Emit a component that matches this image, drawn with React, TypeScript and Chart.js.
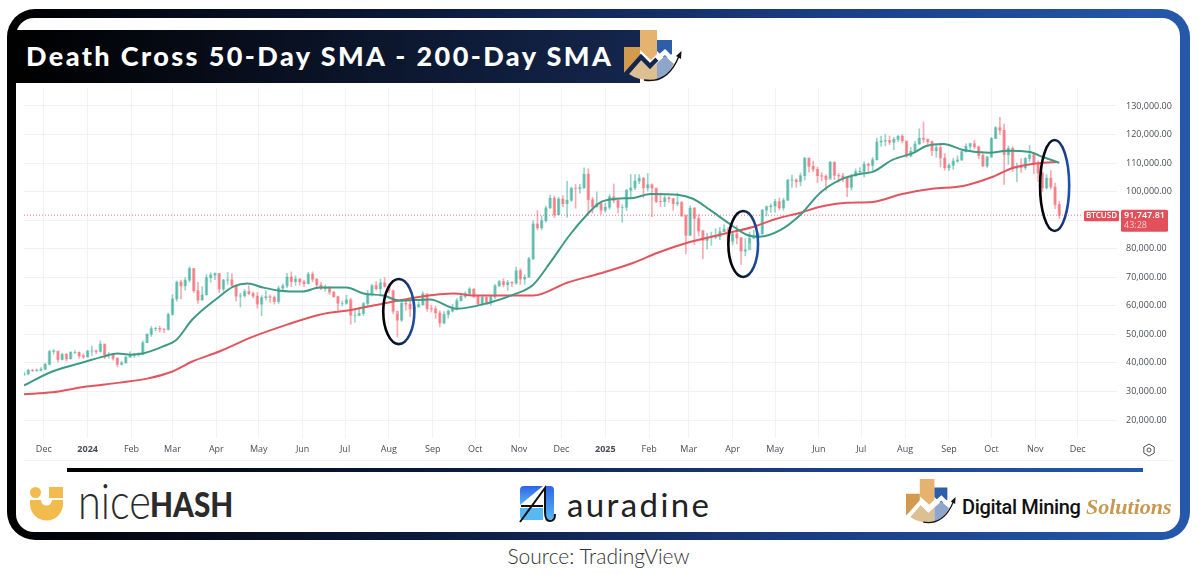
import { useEffect, useRef } from "react";
import { Chart, registerables } from "chart.js";

Chart.register(...registerables);

// BTCUSD in thousands of USD, one candle every three days from 17 Nov 2023.
// Days are counted from 1 Dec 2023.
const firstDay = -14;
const dayStep = 3;
const firstOpen = 35.8;

const closes = [
  36.2, 37.4, 37.3, 37.4, 37.8, 39.5, 44.0, 44.2, 41.2, 43.0,
  41.4, 43.7, 43.7, 42.5, 42.1, 44.2, 44.2, 44.0, 46.6, 42.8,
  43.1, 41.6, 39.5, 40.0, 42.0, 42.6, 43.0, 43.1, 47.1, 50.0,
  52.0, 52.1, 51.8, 51.7, 57.0, 62.4, 68.3, 67.0, 69.0, 73.1,
  65.3, 62.0, 63.8, 69.9, 70.8, 71.3, 65.9, 69.0, 69.1, 67.2,
  63.4, 63.5, 65.0, 64.3, 63.4, 60.6, 62.9, 63.2, 63.0, 61.5,
  66.2, 67.0, 70.1, 68.5, 69.4, 68.4, 67.8, 71.1, 69.3, 67.3,
  66.0, 66.5, 64.8, 63.2, 60.9, 60.9, 62.1, 56.7, 56.7, 57.3,
  60.8, 64.1, 67.1, 66.0, 68.0, 66.8, 65.3, 58.1, 55.0, 60.9,
  60.6, 58.9, 59.5, 60.4, 64.2, 59.0, 58.9, 57.5, 54.0, 57.0,
  58.1, 59.2, 61.8, 63.3, 64.3, 65.9, 63.3, 60.7, 63.0, 61.0,
  63.2, 67.0, 68.5, 67.4, 68.2, 68.0, 72.3, 69.4, 70.0, 76.5,
  88.7, 87.3, 89.8, 94.3, 97.7, 91.9, 97.4, 95.8, 97.0, 101.2,
  101.1, 101.4, 106.1, 97.2, 94.7, 95.8, 93.5, 94.5, 98.2, 96.9,
  94.5, 94.5, 100.5, 101.3, 103.7, 104.7, 101.3, 102.4, 101.3, 96.6,
  96.5, 97.8, 97.5, 95.8, 96.2, 91.5, 84.7, 94.2, 90.6, 86.2,
  82.9, 84.0, 84.0, 84.2, 86.0, 86.9, 82.6, 85.2, 83.8, 79.2,
  79.6, 83.7, 84.0, 85.2, 93.5, 94.7, 95.0, 96.5, 94.3, 97.0,
  104.0, 104.1, 103.5, 105.6, 111.7, 108.9, 107.8, 105.6, 105.4, 104.3,
  110.3, 105.7, 105.5, 104.9, 101.5, 105.5, 107.0, 107.1, 109.6, 109.2,
  111.2, 117.4, 117.7, 117.9, 117.3, 118.3, 119.4, 117.8, 112.5, 114.1,
  116.7, 118.7, 118.3, 117.5, 114.3, 115.4, 111.8, 108.4, 109.2, 110.7,
  111.1, 114.0, 115.9, 116.8, 115.7, 112.7, 109.0, 112.1, 118.6, 122.4,
  121.5, 113.0, 115.2, 108.2, 108.7, 108.4, 111.6, 112.9, 109.6, 106.5,
  101.3, 104.7, 101.6, 95.5, 91.7,
];

const highs = [
  36.9, 37.8, 37.8, 37.9, 38.4, 40.0, 44.4, 44.7, 44.0, 43.4,
  43.4, 44.0, 44.3, 43.9, 43.2, 44.4, 45.9, 44.6, 47.7, 46.6,
  43.6, 43.2, 41.9, 40.6, 42.3, 43.9, 43.4, 43.6, 47.7, 50.3,
  52.8, 52.5, 52.9, 52.1, 57.5, 63.9, 68.7, 69.0, 69.9, 73.7,
  73.0, 68.2, 66.7, 71.0, 71.6, 71.6, 71.4, 69.3, 71.7, 71.2,
  67.4, 64.5, 65.7, 67.0, 64.8, 64.7, 63.6, 65.3, 63.8, 63.5,
  66.9, 67.6, 71.4, 71.9, 70.5, 69.5, 69.0, 71.7, 71.9, 69.6,
  68.2, 67.3, 66.7, 65.0, 63.4, 61.7, 63.7, 62.7, 58.3, 59.5,
  61.2, 65.4, 67.4, 68.5, 69.4, 69.9, 66.5, 65.5, 57.0, 61.7,
  61.8, 61.5, 61.3, 61.5, 64.9, 64.2, 60.2, 59.8, 58.3, 58.0,
  58.6, 60.6, 62.5, 64.0, 64.9, 66.4, 66.0, 63.4, 63.5, 63.2,
  63.4, 67.5, 68.9, 69.5, 68.9, 68.5, 73.6, 73.0, 70.9, 77.0,
  89.9, 93.4, 91.5, 94.9, 98.8, 98.5, 98.0, 98.6, 103.6, 101.6,
  102.5, 102.6, 108.3, 108.0, 98.0, 99.9, 96.0, 95.9, 98.9, 102.7,
  97.2, 95.4, 100.8, 106.0, 106.0, 106.0, 105.0, 106.4, 102.7, 101.0,
  99.5, 98.6, 98.3, 97.7, 99.5, 96.6, 92.0, 95.0, 94.5, 92.0,
  86.5, 85.5, 85.8, 87.0, 87.5, 88.5, 87.5, 85.5, 88.0, 84.0,
  83.5, 85.8, 86.5, 85.6, 93.8, 95.0, 95.7, 97.3, 97.8, 97.7,
  104.3, 105.8, 104.5, 106.5, 112.0, 111.8, 110.7, 108.6, 106.7, 105.9,
  110.6, 110.4, 106.4, 106.4, 105.0, 106.2, 108.0, 108.4, 110.5, 110.0,
  112.0, 118.8, 119.5, 120.0, 119.5, 119.0, 119.7, 120.0, 117.5, 115.5,
  117.6, 122.0, 124.4, 118.5, 117.8, 116.7, 117.0, 113.3, 109.8, 111.7,
  112.5, 114.4, 116.7, 117.0, 118.0, 116.0, 113.3, 112.4, 119.0, 122.8,
  126.0, 123.7, 116.0, 115.7, 110.0, 111.5, 112.0, 116.2, 113.7, 110.8,
  107.0, 106.0, 107.4, 103.0, 96.5,
];

const lows = [
  35.6, 35.8, 36.9, 37.0, 37.1, 37.6, 39.2, 43.1, 40.3, 41.0,
  40.6, 41.4, 43.2, 41.7, 41.5, 42.0, 42.6, 43.2, 43.8, 41.5,
  41.7, 41.0, 38.6, 39.2, 39.9, 41.9, 41.9, 42.3, 42.8, 47.0,
  49.3, 51.3, 50.8, 50.6, 51.5, 56.7, 61.6, 62.4, 65.5, 68.3,
  64.7, 60.8, 62.0, 63.8, 68.3, 69.2, 64.6, 65.1, 67.5, 66.9,
  61.6, 59.6, 63.0, 63.8, 62.8, 59.2, 56.5, 62.0, 61.2, 60.6,
  60.8, 65.0, 66.4, 66.7, 67.2, 67.2, 66.7, 67.6, 68.4, 66.1,
  65.7, 65.1, 64.0, 63.0, 58.4, 60.0, 60.6, 53.5, 54.3, 56.5,
  56.6, 60.0, 63.4, 65.5, 63.4, 66.5, 64.5, 57.2, 49.2, 54.5,
  58.5, 56.2, 57.9, 59.8, 60.2, 58.0, 57.8, 55.6, 52.6, 53.7,
  55.7, 57.8, 58.5, 61.6, 62.7, 63.9, 62.9, 60.0, 60.2, 60.4,
  60.2, 62.5, 66.8, 66.6, 65.5, 66.7, 67.5, 67.5, 67.5, 70.0,
  76.2, 86.6, 86.6, 89.3, 94.0, 90.9, 91.9, 94.7, 91.0, 96.5,
  94.2, 99.5, 101.0, 92.3, 92.5, 94.5, 92.0, 92.8, 93.8, 96.1,
  92.5, 89.3, 93.4, 98.0, 100.7, 102.8, 97.8, 100.2, 91.2, 96.1,
  94.8, 94.8, 96.3, 93.4, 95.0, 91.3, 78.2, 84.7, 81.5, 84.5,
  76.5, 79.9, 81.2, 83.5, 83.2, 86.0, 81.6, 81.3, 81.7, 74.5,
  77.5, 82.0, 83.5, 83.7, 85.0, 91.5, 92.7, 92.8, 93.6, 93.4,
  96.9, 101.5, 101.5, 102.0, 104.0, 106.8, 107.0, 103.2, 103.7, 100.4,
  104.9, 104.2, 103.3, 103.5, 98.2, 100.5, 105.5, 106.5, 105.1, 106.7,
  107.5, 111.0, 115.8, 116.0, 116.5, 114.7, 117.5, 117.0, 112.0, 112.2,
  113.8, 116.5, 117.2, 115.7, 112.6, 112.0, 108.7, 107.5, 107.3, 107.8,
  110.3, 110.9, 113.8, 114.8, 115.0, 111.5, 108.7, 108.5, 112.0, 118.6,
  120.0, 102.5, 109.5, 107.0, 103.5, 106.7, 107.7, 110.5, 106.3, 103.5,
  100.0, 100.9, 100.9, 94.0, 90.6,
];

const sma50Days = [
  -14, 6, 30, 42, 52, 61, 70, 84, 94, 105, 124, 134, 144, 155, 167, 183, 195, 214, 226, 240,
  252, 273, 292, 315, 332, 346, 358, 372, 384, 393, 405, 417, 429, 448, 459, 471, 485, 497, 506, 521,
  535, 549, 563, 577, 586, 600, 615, 624, 636, 650, 669, 681, 697, 706, 718,
];
const sma50 = [
  32.1, 37.0, 40.5, 42.2, 43.3, 42.9, 43.3, 45.7, 48.2, 55.2, 63.2, 66.7, 67.8, 66.4, 65.3, 65.0, 66.4, 66.4, 64.3, 63.6,
  61.8, 62.2, 59.0, 61.1, 63.9, 67.4, 75.1, 84.9, 91.9, 96.1, 97.5, 97.8, 99.2, 98.9, 97.5, 93.6, 88.7, 84.9, 84.2, 86.6,
  91.9, 99.6, 104.1, 106.2, 106.9, 111.1, 113.6, 116.0, 116.7, 114.6, 113.6, 114.3, 113.9, 112.2, 110.1,
];

const sma200Days = [
  -14, 6, 30, 54, 73, 91, 105, 124, 148, 172, 195, 219, 243, 266, 290, 304, 325, 346, 370, 393,
  417, 434, 455, 478, 502, 518, 535, 549, 568, 586, 607, 628, 650, 671, 685, 699, 716,
];
const sma200 = [
  29.0, 29.7, 31.7, 33.1, 34.5, 37.0, 40.5, 44.0, 49.2, 53.4, 56.9, 58.7, 61.1, 63.2, 64.3, 63.6, 63.6, 63.6, 68.1, 71.3,
  75.1, 78.6, 82.1, 84.9, 87.7, 90.5, 92.6, 94.7, 96.1, 96.4, 99.2, 101.0, 102.0, 105.2, 108.3, 109.7, 110.4,
];

const lastPrice = 91.74781;
const lastPriceDays = [-14, 735];

const priceTicks = [20, 30, 40, 50, 60, 70, 80, 90, 100, 110, 120, 130];
const monthDays = [0, 31, 62, 91, 122, 152, 183, 213, 244, 275, 305, 336, 366, 397, 428, 456, 487, 517, 548, 578, 609, 640, 670, 701, 731];
const monthLabels = ["Dec", "2024", "Feb", "Mar", "Apr", "May", "Jun", "Jul", "Aug", "Sep", "Oct", "Nov", "Dec", "2025", "Feb", "Mar", "Apr", "May", "Jun", "Jul", "Aug", "Sep", "Oct", "Nov", "Dec"];

// circled crossings: first day, last day, lowest price, highest price
const circles = [
  [240, 262, 46.6, 69.4],
  [484, 505, 70.1, 93.2],
  [704.4, 725, 86.2, 118.1],
];

const UP = "rgba(8,153,129,0.42)";
const DOWN = "rgba(242,54,69,0.42)";
const AXIS_FONT = "'Open Sans', sans-serif";

const days = closes.map((_, i) => firstDay + i * dayStep);
const opens = closes.map((_, i) => (i === 0 ? firstOpen : closes[i - 1]));
const candleColors = closes.map((c, i) => (c >= opens[i] ? UP : DOWN));

const overlayPlugin = {
  id: "overlay",
  afterDraw(chart: any) {
    const { ctx, scales } = chart;
    const { x, y } = scales;

    circles.forEach(([d0, d1, p0, p1]) => {
      const left = x.getPixelForValue(d0);
      const right = x.getPixelForValue(d1);
      const top = y.getPixelForValue(p1);
      const bottom = y.getPixelForValue(p0);
      const g = ctx.createLinearGradient(left, 0, right, 0);
      g.addColorStop(0, "#000000");
      g.addColorStop(0.45, "#0a1730");
      g.addColorStop(1, "#1f52a8");
      ctx.save();
      ctx.strokeStyle = g;
      ctx.lineWidth = 2.6;
      ctx.beginPath();
      ctx.ellipse((left + right) / 2, (top + bottom) / 2, (right - left) / 2, (bottom - top) / 2, 0, 0, Math.PI * 2);
      ctx.stroke();
      ctx.restore();
    });

    // price tags on the axis
    const py = y.getPixelForValue(lastPrice);
    const ax = chart.chartArea.right;
    ctx.save();
    ctx.fillStyle = "#e2505b";
    ctx.beginPath();
    ctx.roundRect(ax - 33, py - 4.5, 35, 10.5, 1.5);
    ctx.fill();
    ctx.beginPath();
    ctx.roundRect(ax + 4, py - 5.5, 47, 22, 1.5);
    ctx.fill();
    ctx.fillStyle = "#ffffff";
    ctx.textBaseline = "middle";
    ctx.font = `600 8px ${AXIS_FONT}`;
    ctx.fillText("BTCUSD", ax - 31, py + 0.8);
    ctx.font = `600 9px ${AXIS_FONT}`;
    ctx.fillText("91,747.81", ax + 7, py + 0.5);
    ctx.fillStyle = "#f8cdd0";
    ctx.font = `400 9px ${AXIS_FONT}`;
    ctx.fillText("43:28", ax + 7, py + 10.5);
    ctx.restore();
  },
};

function PriceChart() {
  const canvasRef = useRef<HTMLCanvasElement>(null);

  useEffect(() => {
    if (!canvasRef.current) return;
    const chart = new Chart(canvasRef.current, {
      type: "bar",
      data: {
        datasets: [
          {
            type: "line",
            data: lastPriceDays.map((d) => ({ x: d, y: lastPrice })),
            borderColor: "rgba(226,80,91,0.75)",
            borderWidth: 1,
            borderDash: [1, 2],
            pointRadius: 0,
            order: 4,
          },
          {
            data: days.map((d, i) => ({ x: d, y: [lows[i], highs[i]] })),
            backgroundColor: candleColors,
            barThickness: 1,
            grouped: false,
            order: 3,
          },
          {
            data: days.map((d, i) => ({ x: d, y: [opens[i], closes[i]] })),
            backgroundColor: candleColors,
            barThickness: 2.6,
            grouped: false,
            order: 2,
          },
          {
            type: "line",
            data: sma200Days.map((d, i) => ({ x: d, y: sma200[i] })),
            borderColor: "#e2555f",
            borderWidth: 2,
            pointRadius: 0,
            cubicInterpolationMode: "monotone",
            order: 1,
          },
          {
            type: "line",
            data: sma50Days.map((d, i) => ({ x: d, y: sma50[i] })),
            borderColor: "#3e9a84",
            borderWidth: 2,
            pointRadius: 0,
            cubicInterpolationMode: "monotone",
            order: 0,
          },
        ],
      } as any,
      options: {
        responsive: false,
        animation: false,
        layout: { padding: 0 },
        plugins: { legend: { display: false }, tooltip: { enabled: false } },
        scales: {
          x: {
            type: "linear",
            offset: false,
            min: -14,
            max: 758.8,
            grid: { color: "#f1f2f5", offset: false, drawTicks: false },
            border: { display: false },
            afterBuildTicks: (axis: any) => {
              axis.ticks = monthDays.map((value) => ({ value }));
            },
            afterFit: (axis: any) => {
              axis.height = 22;
              axis.paddingLeft = 0;
              axis.paddingRight = 0;
            },
            ticks: {
              autoSkip: false,
              maxRotation: 0,
              padding: 6,
              color: "#4a4d57",
              font: (ctx: any) => {
                const bold = ctx.tick && monthLabels[monthDays.indexOf(ctx.tick.value)]?.startsWith("20");
                return { family: AXIS_FONT, size: 9, weight: bold ? "bold" : "normal" };
              },
              callback: (v: any) => monthLabels[monthDays.indexOf(v)],
            },
          },
          y: {
            position: "right",
            min: 13.7,
            max: 136.3,
            grid: { color: "#f1f2f5", drawTicks: false },
            border: { display: false },
            afterBuildTicks: (axis: any) => {
              axis.ticks = priceTicks.map((value) => ({ value }));
            },
            afterFit: (axis: any) => {
              axis.width = 57;
              axis.paddingTop = 0;
              axis.paddingBottom = 0;
            },
            ticks: {
              padding: 9,
              color: "#4a4d57",
              font: { family: AXIS_FONT, size: 9 },
              callback: (v: any) => (v * 1000).toLocaleString("en-US", { minimumFractionDigits: 2 }),
            },
          },
        },
      },
      plugins: [overlayPlugin],
    } as any);
    return () => chart.destroy();
  }, []);

  return (
    <canvas
      ref={canvasRef}
      width={1150}
      height={372}
      style={{ position: "absolute", left: 24, top: 88, display: "block" }}
    />
  );
}

// bars, zigzag and arrow of the Digital Mining Solutions mark
function MiningMark({ left, top, width, zigzag }: { left: number; top: number; width: number; zigzag: string }) {
  return (
    <svg viewBox="0 0 58 52" width={width} style={{ position: "absolute", left, top }}>
      <polygon points="0,17 16,17 16,28 0,45" fill="#d29a4e" />
      <polygon points="16,0 33,0 33,24 27,30 16,20" fill="#e6b26f" />
      <polygon points="33,10 48,10 48,24 41,29 33,21" fill="#2f5ea8" />
      <path d="M5,44 L17,30 L26,39 L33,33 L33,51 Q14,51 5,44 Z" fill="#dcbf92" />
      <path d="M33,33 L41,26 L50,34 Q43,46 33,51 Z" fill="#8fa6cc" />
      <path d="M0,46 L17,27 L26,36 L33,29" fill="none" stroke={zigzag} strokeWidth="4.5" />
      <path d="M33,29 L41,22 L49,30" fill="none" stroke="#ffffff" strokeWidth="4.5" />
      <path d="M20,50 Q44,54 55,26" fill="none" stroke="#111" strokeWidth="1.4" />
      <polygon points="57.5,21 57,29 52,26" fill="#111" />
    </svg>
  );
}

export default function App() {
  return (
    <div style={{ position: "absolute", left: 0, top: 0, width: 1200, height: 574, background: "#fff", overflow: "hidden" }}>
      {/* frame */}
      <div
        style={{
          position: "absolute",
          left: 7,
          top: 9,
          width: 1183,
          height: 531,
          borderRadius: 28,
          background: "linear-gradient(90deg,#000 0%,#0b1a3c 35%,#1b3f86 70%,#2558ab 100%)",
        }}
      />
      <div style={{ position: "absolute", left: 16, top: 18, width: 1164, height: 514, borderRadius: 18, background: "#fff" }} />

      {/* title */}
      <div
        style={{
          position: "absolute",
          left: 16,
          top: 30,
          width: 624,
          height: 53,
          background: "linear-gradient(90deg,#000 0%,#14264d 100%)",
        }}
      />
      <div
        style={{
          position: "absolute",
          left: 26,
          top: 39,
          color: "#fff",
          font: "900 27px Lato, sans-serif",
          letterSpacing: 2.4,
          whiteSpace: "nowrap",
        }}
      >
        Death Cross 50-Day SMA - 200-Day SMA
      </div>
      <MiningMark left={624} top={30} width={58} zigzag="#14264d" />

      <PriceChart />
      <div style={{ position: "absolute", left: 24, top: 460, width: 1150, height: 1, background: "#f1f2f5" }} />
      <svg width="14" height="14" style={{ position: "absolute", left: 1142, top: 443 }}>
        <polygon points="7,1 12.2,4 12.2,10 7,13 1.8,10 1.8,4" fill="none" stroke="#555" strokeWidth="1" />
        <circle cx="7" cy="7" r="2" fill="none" stroke="#555" strokeWidth="1" />
      </svg>

      {/* rule */}
      <div
        style={{
          position: "absolute",
          left: 67,
          top: 468,
          width: 1076,
          height: 4,
          background: "linear-gradient(90deg,#000 0%,#0b1a3c 35%,#1b3f86 70%,#2558ab 100%)",
        }}
      />

      {/* NiceHash */}
      <svg width="36" height="36" viewBox="30 486 36 36" style={{ position: "absolute", left: 30, top: 486 }}>
        <circle cx="35.5" cy="492.5" r="5.5" fill="#f2bb4e" />
        <rect x="49" y="487" width="14" height="11" fill="#f2bb4e" />
        <path d="M30 500 H41 A5.5 5.5 0 0 0 52 500 H63 V504 A16.5 16.5 0 0 1 30 504 Z" fill="#f2bb4e" />
      </svg>
      <div style={{ position: "absolute", left: 78, top: 470, color: "#2b2b2b", whiteSpace: "nowrap", font: "300 50px Lato, sans-serif", transform: "scaleX(0.83)", transformOrigin: "left" }}>
        nice
      </div>
      <div style={{ position: "absolute", left: 150, top: 482, color: "#2b2b2b", whiteSpace: "nowrap", font: "900 35px Lato, sans-serif", transform: "scaleX(0.85)", transformOrigin: "left" }}>
        HASH
      </div>

      {/* Auradine */}
      <svg width="38" height="38" viewBox="0 0 38 38" style={{ position: "absolute", left: 519, top: 485 }}>
        <defs>
          <linearGradient id="aura" x1="0" y1="0" x2="0" y2="1">
            <stop offset="0" stopColor="#2f63e8" />
            <stop offset="1" stopColor="#57b8f2" />
          </linearGradient>
        </defs>
        <path d="M5,1 H24 L1,20 V5 Q1,1 5,1 Z" fill="url(#aura)" />
        <path d="M27,1 H31 Q35,1 35,5 V30 Q35,35 30,35 H27 Z" fill="url(#aura)" />
        <path d="M1,23 H24 V35 H5 Q1,35 1,31 Z" fill="#57b8f2" />
        <path d="M1,37 L26,3 V27 Q26,36 31,36 Q36,36 36,29" fill="none" stroke="#111" strokeWidth="2" />
        <path d="M2,21 H24" fill="none" stroke="#111" strokeWidth="2" />
      </svg>
      <div style={{ position: "absolute", left: 567, top: 484, color: "#222", whiteSpace: "nowrap", font: "400 33px Lato, sans-serif", letterSpacing: 2.4 }}>
        auradine
      </div>

      {/* Digital Mining Solutions */}
      <MiningMark left={906} top={479} width={50} zigzag="#ffffff" />
      <div style={{ position: "absolute", left: 962, top: 495, color: "#111", whiteSpace: "nowrap", font: "500 20px Roboto, sans-serif", letterSpacing: -0.35 }}>
        Digital Mining
      </div>
      <div style={{ position: "absolute", left: 1086, top: 494, color: "#c9984f", whiteSpace: "nowrap", font: "italic 700 22px 'Liberation Serif', serif" }}>
        Solutions
      </div>

      <div style={{ position: "absolute", left: 0, top: 543, width: 1197, textAlign: "center", color: "#333", font: "300 21px Lato, sans-serif" }}>
        Source: TradingView
      </div>
    </div>
  );
}
